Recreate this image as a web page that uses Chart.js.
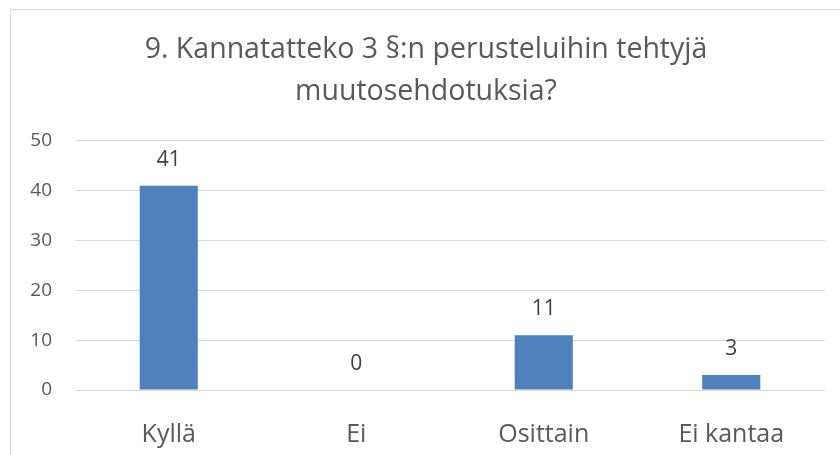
<!DOCTYPE html>
<html>
<head>
<meta charset="utf-8">
<script src="https://cdn.jsdelivr.net/npm/chart.js@4"></script>
<style>
  html, body { margin: 0; padding: 0; background: #fff; }
  #wrap { position: relative; width: 840px; height: 455px; overflow: hidden; }
  #frame { position: absolute; left: 10px; top: 9px; width: 900px; height: 500px; border: 1px solid #d9d9d9; }
  canvas { position: absolute; left: 0; top: 0; }
</style>
</head>
<body>
<div id="wrap">
  <div id="frame"></div>
  <canvas id="chart" width="840" height="455"></canvas>
</div>
<script>
// ── Data ─────────────────────────────────────────────────────
const titleLines = ['9. Kannatatteko 3 §:n perusteluihin tehtyjä', 'muutosehdotuksia?'];
const categories = ['Kyllä', 'Ei', 'Osittain', 'Ei kantaa'];
const answers    = [41, 0, 11, 3];
const yTicks     = [0, 10, 20, 30, 40, 50];

const FONT = '"Open Sans", "Liberation Sans", sans-serif';

// ── Value labels above bars ──────────────────────────────────
const valueLabels = {
  id: 'valueLabels',
  afterDatasetsDraw(chart) {
    const { ctx } = chart;
    const meta = chart.getDatasetMeta(0);
    ctx.save();
    ctx.font = '21px ' + FONT;
    ctx.fillStyle = '#404040';
    ctx.textAlign = 'center';
    ctx.textBaseline = 'middle';
    meta.data.forEach((bar, i) => {
      ctx.fillText(String(answers[i]), bar.x, bar.y - 26);
    });
    ctx.restore();
  }
};

new Chart(document.getElementById('chart'), {
  type: 'bar',
  data: {
    labels: categories,
    datasets: [{
      data: answers,
      backgroundColor: '#4f81bd',
      borderWidth: 0,
      barPercentage: 0.62,
      categoryPercentage: 0.5,
    }]
  },
  options: {
    responsive: false,
    animation: false,
    // left padding nudges the title toward the centre of the wider frame
    layout: { padding: { left: 27, right: 15, top: 0, bottom: 0 } },
    plugins: {
      legend: { display: false },
      tooltip: { enabled: false },
      title: {
        display: true,
        text: titleLines,
        color: '#595959',
        font: { family: FONT, size: 28.5, weight: 'normal', lineHeight: 1.47 },
        padding: { top: 29, bottom: 28 }
      }
    },
    scales: {
      x: {
        grid: { display: false },
        border: { display: false },
        ticks: { color: '#595959', font: { family: FONT, size: 25 }, padding: 22 },
        afterFit(axis) { axis.height = 65; }
      },
      y: {
        min: 0,
        max: 50,
        afterBuildTicks(axis) { axis.ticks = yTicks.map(v => ({ value: v })); },
        grid: { color: '#d9d9d9', lineWidth: 1, drawTicks: false },
        border: { display: false },
        ticks: { color: '#595959', font: { family: FONT, size: 19 }, padding: 23 },
        afterFit(axis) { axis.width = 48; }
      }
    }
  },
  plugins: [valueLabels]
});
</script>
</body>
</html>
